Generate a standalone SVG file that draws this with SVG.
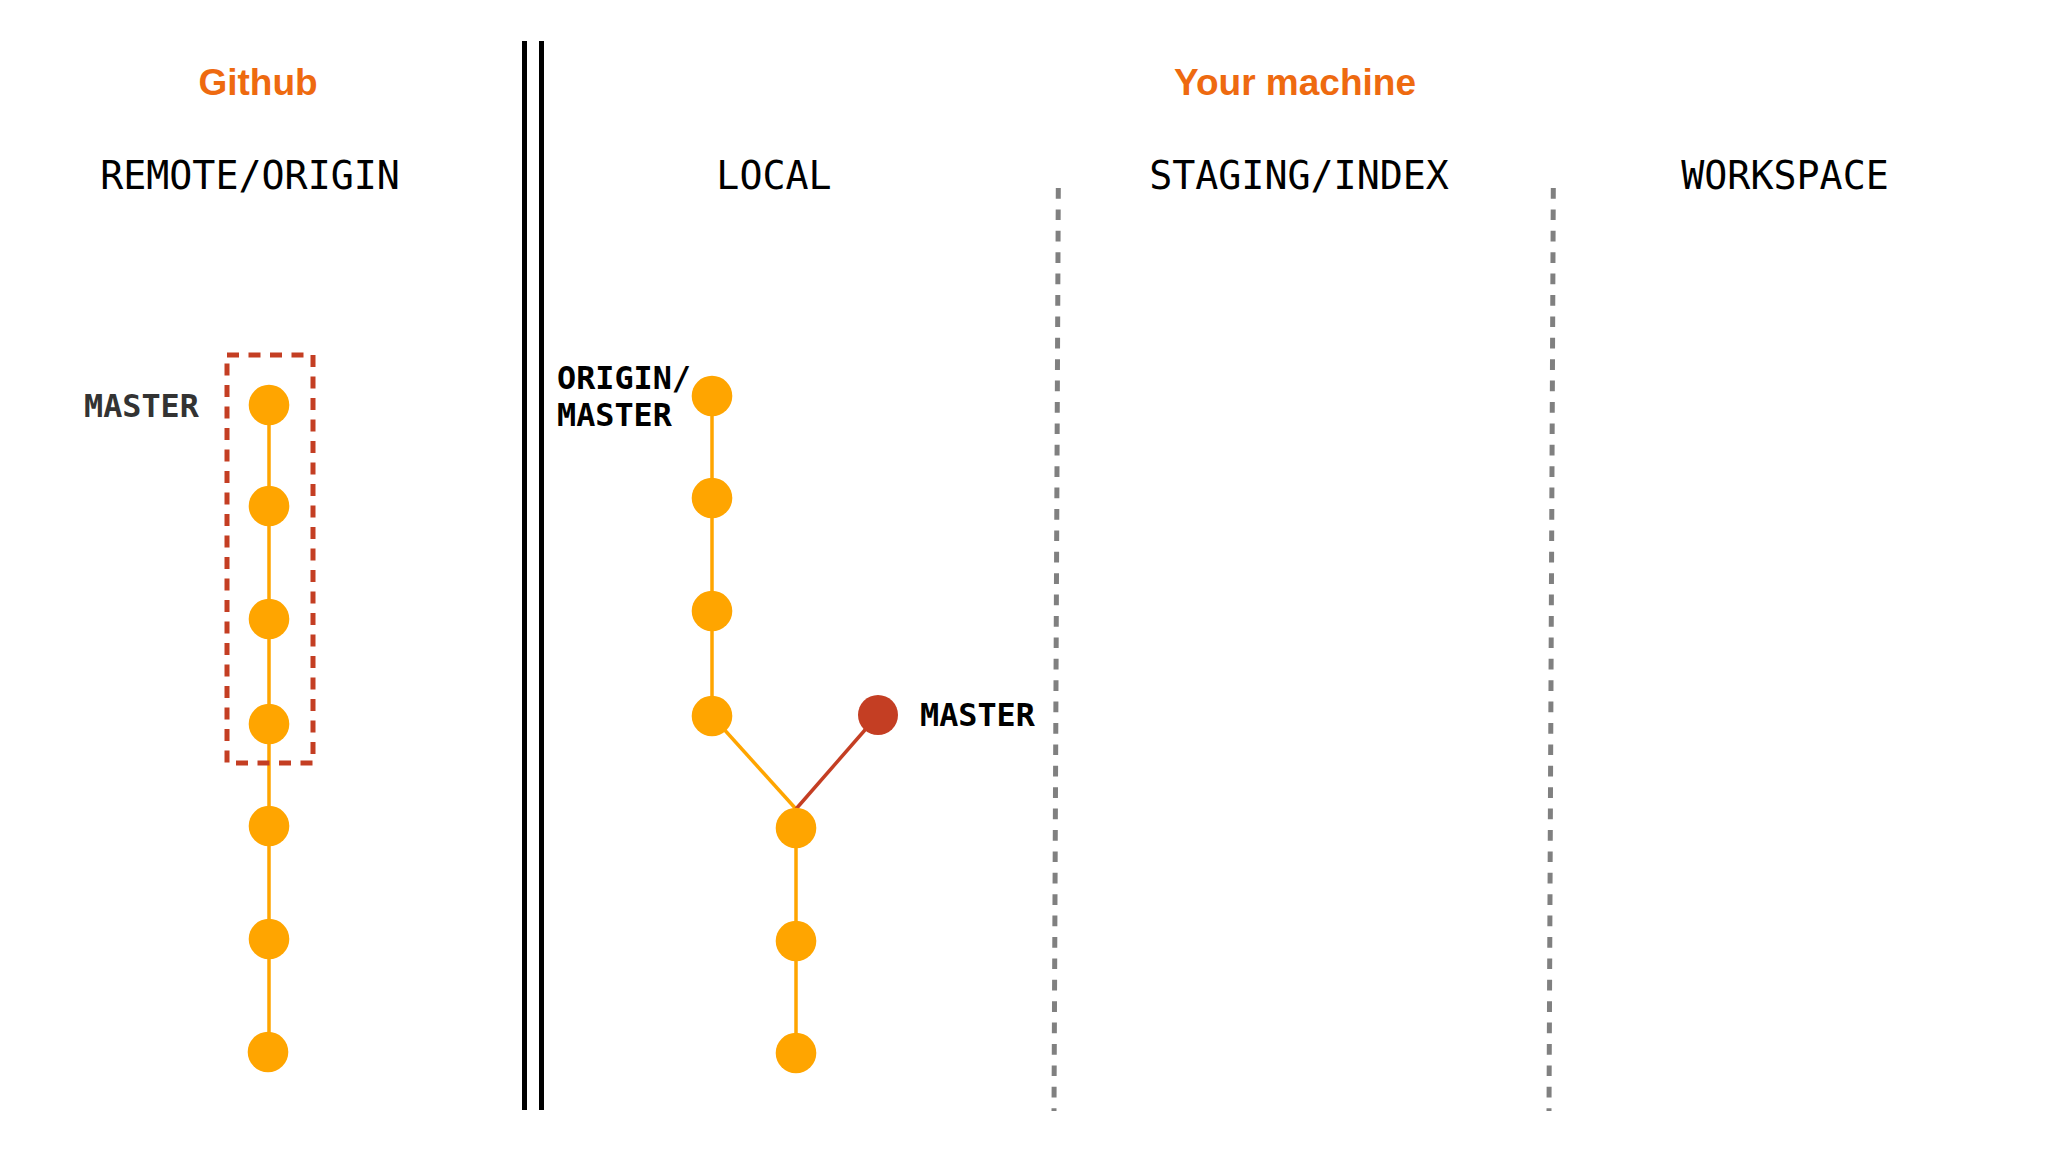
<svg xmlns="http://www.w3.org/2000/svg" width="2048" height="1152" viewBox="0 0 2048 1152">
<style>
.hdr{font-family:"Liberation Sans",Arial,sans-serif;font-weight:bold;font-size:37px;fill:#EE6A10;text-anchor:middle}
.col{font-family:"DejaVu Sans Mono",monospace;font-size:38.3px;fill:#000;text-anchor:middle}
.lbl{font-family:"DejaVu Sans Mono",monospace;font-weight:bold;font-size:31.8px;fill:#000}
.commit{fill:#FFA500}
.head{fill:#C43E23}
.edge{stroke:#FFA500;stroke-width:3.5;fill:none}
.edge-red{stroke:#C43E23;stroke-width:3.5;fill:none}
.divider{stroke:#000;stroke-width:5}
.dotted{stroke:#808080;stroke-width:5;stroke-dasharray:10.7 10.7}
</style>
<rect width="2048" height="1152" fill="#fff"/>
<g id="headers">
<text class="hdr" x="258" y="95">Github</text>
<text class="hdr" x="1295" y="95">Your machine</text>
<text class="col" x="250" y="189">REMOTE/ORIGIN</text>
<text class="col" x="774" y="189">LOCAL</text>
<text class="col" x="1299" y="189">STAGING/INDEX</text>
<text class="col" x="1785" y="189">WORKSPACE</text>
</g>
<g id="dividers">
<line class="divider" x1="524.5" y1="41" x2="524.5" y2="1110"/>
<line class="divider" x1="541.5" y1="41" x2="541.5" y2="1110"/>
<line class="dotted" x1="1058.3" y1="188" x2="1054" y2="1111"/>
<line class="dotted" x1="1553.3" y1="188" x2="1549" y2="1111"/>
</g>
<g id="connectors">
<line class="edge" x1="269" y1="405" x2="269" y2="1052"/>
<line class="edge" x1="712" y1="396" x2="712" y2="716"/>
<line class="edge" x1="712" y1="716" x2="796" y2="809"/>
<line class="edge-red" x1="878" y1="715" x2="796" y2="809"/>
<line class="edge" x1="796" y1="828" x2="796" y2="1053"/>
</g>
<g id="remote-selection">
<rect x="227" y="355" width="86" height="408" fill="none" stroke="#C43E23" stroke-width="5" stroke-dasharray="12 9.5"/>
</g>
<g id="remote-commits">
<circle id="r1" class="commit" cx="269" cy="405" r="20.3"/>
<circle id="r2" class="commit" cx="269" cy="506" r="20.3"/>
<circle id="r3" class="commit" cx="269" cy="619" r="20.3"/>
<circle id="r4" class="commit" cx="269" cy="724" r="20.3"/>
<circle id="r5" class="commit" cx="269" cy="826" r="20.3"/>
<circle id="r6" class="commit" cx="269" cy="939" r="20.3"/>
<circle id="r7" class="commit" cx="268" cy="1052" r="20.3"/>
</g>
<g id="remote-master-label">
<text class="lbl" x="84" y="417" style="fill:#333">MASTER</text>
</g>
<g id="local-commits">
<circle id="l1" class="commit" cx="712" cy="396" r="20.3"/>
<circle id="l2" class="commit" cx="712" cy="498" r="20.3"/>
<circle id="l3" class="commit" cx="712" cy="611" r="20.3"/>
<circle id="l4" class="commit" cx="712" cy="716" r="20.3"/>
<circle id="l5" class="commit" cx="796" cy="828" r="20.3"/>
<circle id="l6" class="commit" cx="796" cy="941" r="20.3"/>
<circle id="l7" class="commit" cx="796" cy="1053" r="20.3"/>
<circle id="lhead" class="head" cx="878" cy="715" r="20"/>
</g>
<g id="local-labels">
<text class="lbl" x="557" y="389">ORIGIN/</text>
<text class="lbl" x="557" y="426">MASTER</text>
<text class="lbl" x="920" y="726">MASTER</text>
</g>
</svg>
